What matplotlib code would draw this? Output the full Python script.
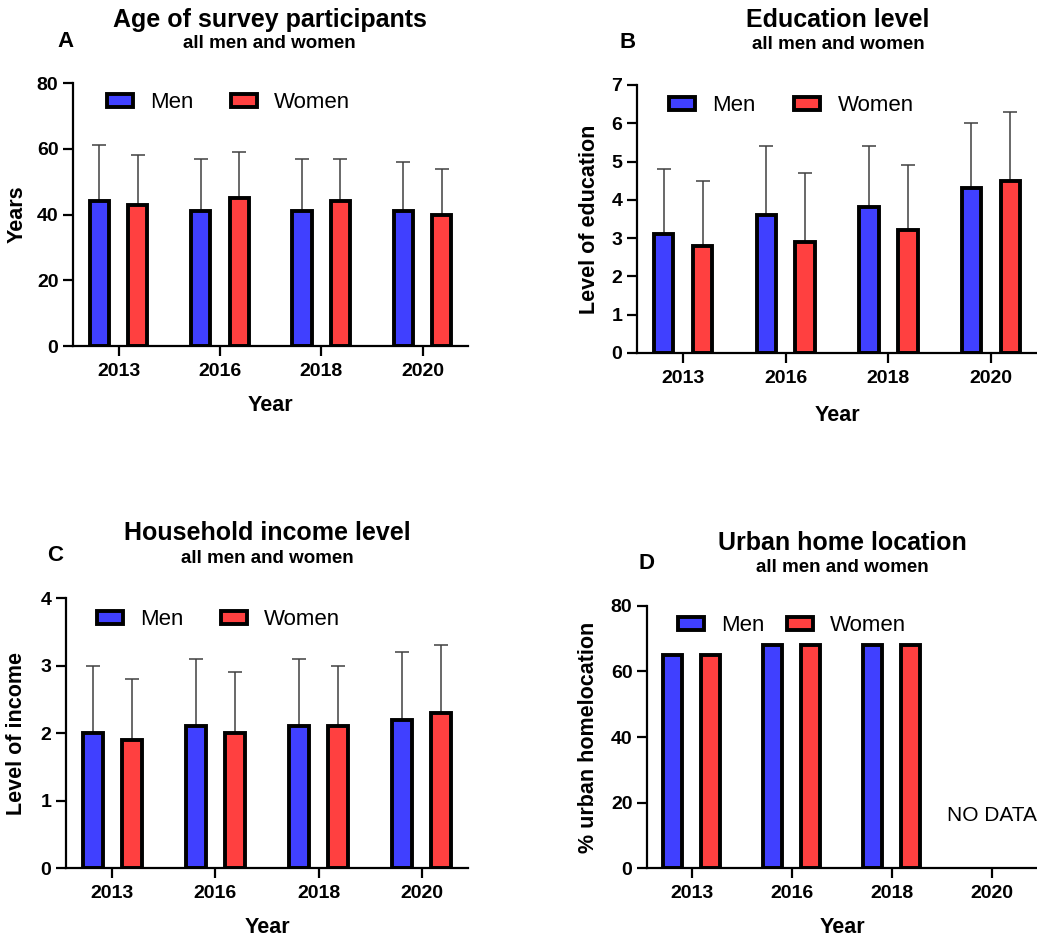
import numpy as np
import matplotlib
matplotlib.use("Agg")
from matplotlib import pyplot as plt

plt.rcParams['font.family'] = ['Liberation Sans', 'DejaVu Sans']

# Datos por panel: medias y desviaciones (solo se dibuja la barra superior)
YEARS = ["2013", "2016", "2018", "2020"]

age_men = [44, 41, 41, 41]
age_men_sd = [17, 16, 16, 15]
age_women = [43, 45, 44, 40]
age_women_sd = [15, 14, 13, 14]

edu_men = [3.1, 3.6, 3.8, 4.3]
edu_men_sd = [1.7, 1.8, 1.6, 1.7]
edu_women = [2.8, 2.9, 3.2, 4.5]
edu_women_sd = [1.7, 1.8, 1.7, 1.8]

inc_men = [2.0, 2.1, 2.1, 2.2]
inc_men_sd = [1.0, 1.0, 1.0, 1.0]
inc_women = [1.9, 2.0, 2.1, 2.3]
inc_women_sd = [0.9, 0.9, 0.9, 1.0]

urb_men = [65, 68, 68, np.nan]
urb_women = [65, 68, 68, np.nan]

AZUL = "#4040FF"
ROJO = "#FF4040"
W = 0.19
OFF = 0.19

fig = plt.figure(figsize=(10.37, 9.36), dpi=100)


def panel(rect, men, women, men_sd, women_sd, ylim, yticks, ylabel,
          ylab_x, xlab_y, leg_xy, colsp):
    ax = fig.add_axes(rect)
    x = np.arange(len(YEARS))
    for vals, sd, col, dx, lab in [(men, men_sd, AZUL, -OFF, "Men"),
                                   (women, women_sd, ROJO, OFF, "Women")]:
        vals = np.asarray(vals, dtype=float)
        if sd is not None:
            top = vals + np.asarray(sd)
            # barra de error solo hacia arriba, con remate
            ax.vlines(x + dx, vals, top, color="#404040", linewidth=1.1,
                      zorder=1)
            ax.plot(x + dx, top, linestyle="none", marker="_",
                    markersize=9.5, markeredgewidth=1.1, color="#404040",
                    zorder=1)
        ax.bar(x + dx, vals, width=W, color=col, edgecolor="black",
               linewidth=2.8, label=lab, zorder=2)
    ax.set_xlim(-0.45, 3.45)
    ax.set_ylim(*ylim)
    ax.set_yticks(yticks)
    ax.set_xticks(x)
    ax.set_xticklabels(YEARS)
    for s in ["top", "right"]:
        ax.spines[s].set_visible(False)
    for s in ["left", "bottom"]:
        ax.spines[s].set_linewidth(1.6)
    ax.tick_params(axis="both", width=1.6, length=7, labelsize=14)
    ax.tick_params(axis="x", pad=5)
    for t in ax.get_xticklabels() + ax.get_yticklabels():
        t.set_fontweight("bold")
    ax.set_ylabel(ylabel, fontsize=15.5, fontweight="bold")
    ax.yaxis.set_label_coords(ylab_x, 0.5)
    ax.set_xlabel("Year", fontsize=15.5, fontweight="bold")
    ax.xaxis.set_label_coords(0.5, xlab_y)
    ax.legend(loc="center left", bbox_to_anchor=leg_xy, ncol=2,
              frameon=False, fontsize=16, borderpad=0, borderaxespad=0,
              handlelength=1.17, handleheight=0.55, handletextpad=0.77,
              columnspacing=colsp)
    return ax


panel([0.0704, 0.6303, 0.381, 0.281], age_men, age_women, age_men_sd,
      age_women_sd, (0, 80), [0, 20, 40, 60, 80], "Years",
      -0.116, -0.186, (0.086, 0.925), 1.67)
panel([0.6143, 0.6229, 0.3857, 0.2863], edu_men, edu_women, edu_men_sd,
      edu_women_sd, (0, 7), range(8), "Level of education",
      -0.0925, -0.194, (0.08, 0.922), 1.75)
panel([0.0636, 0.0726, 0.3877, 0.2885], inc_men, inc_women, inc_men_sd,
      inc_women_sd, (0, 4), range(5), "Level of income",
      -0.097, -0.181, (0.077, 0.92), 1.67)
axd = panel([0.6239, 0.0726, 0.3761, 0.280], urb_men, urb_women, None, None,
            (0, 80), [0, 20, 40, 60, 80], "% urban homelocation",
            -0.123, -0.185, (0.079, 0.925), 1.0)
axd.text(3, 16, "NO DATA", ha="center", va="center", fontsize=15)

# Títulos, subtítulos y letras de panel
titulos = [
    (0.260, 0.9786, 0.953, "Age of survey participants", 0.0627, 0.956, "A"),
    (0.808, 0.9786, 0.952, "Education level", 0.6056, 0.955, "B"),
    (0.2575, 0.4306, 0.4028, "Household income level", 0.053, 0.407, "C"),
    (0.812, 0.4199, 0.3942, "Urban home location", 0.623, 0.3985, "D"),
]
for tx, ty, sy, texto, lx, ly, letra in titulos:
    fig.text(tx, ty, texto, ha="center", va="center", fontsize=18,
             fontweight="bold")
    fig.text(tx, sy, "all men and women", ha="center", va="center",
             fontsize=13.5, fontweight="bold")
    fig.text(lx, ly, letra, ha="center", va="center", fontsize=16,
             fontweight="bold")

fig.savefig("out.png", dpi=100)
